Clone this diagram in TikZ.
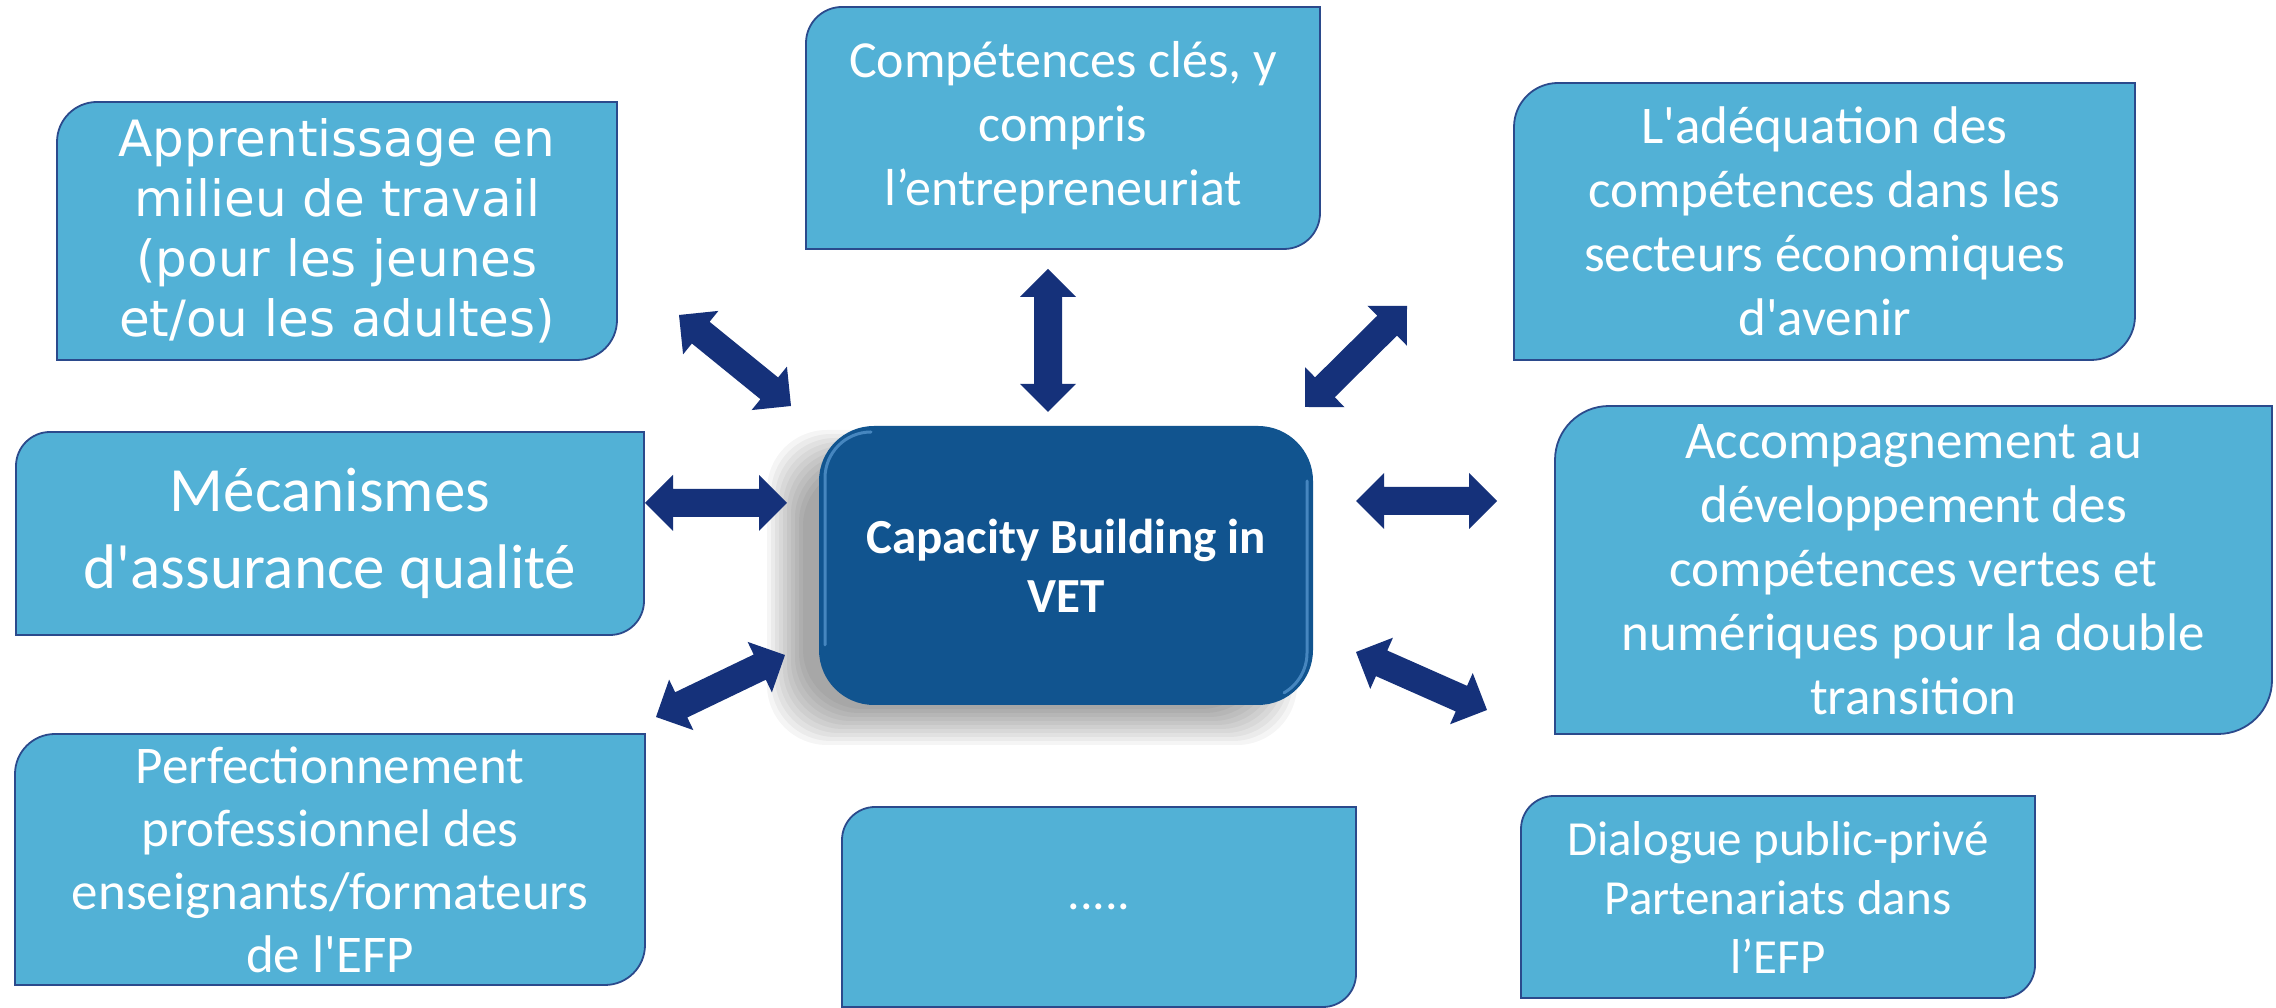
\documentclass[tikz,border=0pt]{standalone}
\usepackage{fontspec}
\newfontfamily\dejavu{DejaVu Sans}
\newfontfamily\carlito{Carlito}
\usetikzlibrary{calc}
\pgfdeclarelayer{background}
\pgfsetlayers{background,main}
\definecolor{boxfill}{HTML}{52B1D6}
\definecolor{boxline}{HTML}{2B4A8C}
\definecolor{corefill}{HTML}{11548F}
\definecolor{corehi}{HTML}{6AA8E0}
\definecolor{arrowc}{HTML}{15317A}
\tikzset{
  txt/.style={inner sep=0pt, outer sep=0pt, align=center, text=white},
  outer/.style={fill=boxfill, draw=boxline, line width=1.8pt},
  core/.style={txt, fill=corefill, rounded corners=55pt},
  barrowstyle/.style={fill=arrowc},
}
\newcommand\diagshape[2]{%
  \path[outer] ([yshift=-#2pt]#1.north west) arc[start angle=180,end angle=90,radius=#2pt]
    -- (#1.north east) -- ([yshift=#2pt]#1.south east) arc[start angle=0,end angle=-90,radius=#2pt]
    -- (#1.south west) -- cycle;}
\newcommand\barrow[2]{%
  \path[barrowstyle] let \p1=($(#2)-(#1)$), \n1={atan2(\y1,\x1)}, \n2={veclen(\x1,\y1)} in
    [shift={(#1)},rotate=\n1] (0,0) -- (28,28) -- (28,14) -- (\n2-28,14) -- (\n2-28,28) -- (\n2,0)
    -- (\n2-28,-28) -- (\n2-28,-14) -- (28,-14) -- (28,-28) -- cycle;}
\begin{document}
\begin{tikzpicture}[x=1pt,y=1pt]
\useasboundingbox (0,0) rectangle (2276,1008);
% text nodes (boxes)
\node[txt, minimum width=560pt, minimum height=258pt, font=\dejavu\fontsize{50}{60}\selectfont] (appr) at (337,777)
  {Apprentissage en\\milieu de travail\\(pour les jeunes\\et/ou les adultes)};
\node[txt, minimum width=514pt, minimum height=242pt, font=\carlito\fontsize{52}{64}\selectfont] (comp) at (1063,880)
  {Compétences clés, y\\compris\\l’entrepreneuriat};
\node[txt, minimum width=621pt, minimum height=277pt, font=\carlito\fontsize{53}{64}\selectfont] (adeq) at (1824.5,786.5)
  {L'adéquation des\\compétences dans les\\secteurs économiques\\d'avenir};
\node[txt, minimum width=628pt, minimum height=203pt, font=\carlito\fontsize{63}{77}\selectfont] (meca) at (330,474.5)
  {Mécanismes\\d'assurance qualité};
\node[txt, minimum width=717pt, minimum height=328pt, font=\carlito\fontsize{53}{64}\selectfont] (acc) at (1913.5,438)
  {Accompagnement au\\développement des\\compétences vertes et\\numériques pour la double\\transition};
\node[txt, minimum width=630pt, minimum height=251pt, font=\carlito\fontsize{53}{63}\selectfont] (perf) at (330,148.5)
  {Perfectionnement\\professionnel des\\enseignants/formateurs\\de l'EFP};
\node[txt, minimum width=514pt, minimum height=200pt, font=\carlito\fontsize{50}{60}\selectfont] (dots) at (1099,101)
  {.....};
\node[txt, minimum width=514pt, minimum height=202pt, font=\carlito\fontsize{49}{59}\selectfont] (dial) at (1778,111)
  {Dialogue public-privé\\Partenariats dans\\l’EFP};
\node[core, minimum width=494pt, minimum height=279pt, font=\carlito\bfseries\fontsize{49}{59}\selectfont] (center) at (1066,442.5)
  {Capacity Building in\\VET};
% bevel highlights of the central box (left and right edges)
\draw[corehi, line width=3pt, opacity=0.6, line cap=round]
  ([shift={(52,-6)}]center.north west) arc[start angle=90,end angle=180,radius=46pt]
  -- ([shift={(6,60)}]center.south west);
\draw[corehi, line width=3pt, opacity=0.6, line cap=round]
  ([shift={(-6,-55)}]center.north east) -- ([shift={(-6,52)}]center.south east)
  arc[start angle=0,end angle=-60,radius=46pt];
% background: shadow and box shapes
\begin{pgfonlayer}{background}
  \fill[white] (0,0) rectangle (2276,1008);
  \foreach \k in {0,...,9}{
    \pgfmathsetmacro\dd{18-4*\k}
    \fill[black, opacity=0.04, rounded corners=60pt]
      ($(center.south west)+(-34-\dd,-22-\dd)$) rectangle ($(center.north east)+(-34+\dd,-22+\dd)$);
  }
  \diagshape{appr}{40}
  \diagshape{comp}{36}
  \diagshape{adeq}{44}
  \diagshape{meca}{34}
  \diagshape{acc}{54}
  \diagshape{perf}{40}
  \diagshape{dots}{33}
  \diagshape{dial}{33}
\end{pgfonlayer}
% connector end points
\coordinate (a1s) at (679,693);  \coordinate (a1e) at (791,602);
\coordinate (a2s) at (1048,739); \coordinate (a2e) at (1048,596);
\coordinate (a3s) at (1407,702); \coordinate (a3e) at (1305,601);
\coordinate (a4s) at (645,505);  \coordinate (a4e) at (787,505);
\coordinate (a5s) at (1356,507); \coordinate (a5e) at (1497,507);
\coordinate (a6s) at (656,291);  \coordinate (a6e) at (785,353);
\coordinate (a7s) at (1356,356); \coordinate (a7e) at (1487,298);
\barrow{a1s}{a1e}
\barrow{a2s}{a2e}
\barrow{a3s}{a3e}
\barrow{a4s}{a4e}
\barrow{a5s}{a5e}
\barrow{a6s}{a6e}
\barrow{a7s}{a7e}
\end{tikzpicture}
\end{document}
